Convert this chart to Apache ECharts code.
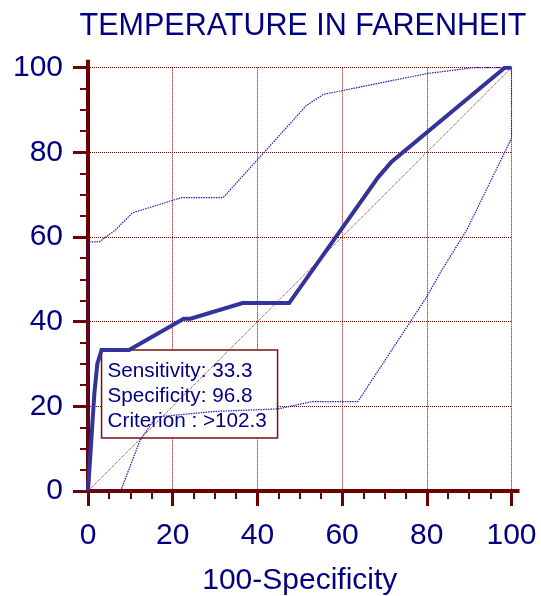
<!DOCTYPE html>
<html>
<head>
<meta charset="utf-8">
<script src="https://cdn.jsdelivr.net/npm/echarts@6/dist/echarts.min.js"></script>
<style>
  html, body { margin: 0; padding: 0; background: #ffffff; }
  #chart { width: 541px; height: 596px; }
</style>
</head>
<body>
<div id="chart"></div>
<script>
// ROC curve for temperature (°F) with 95% confidence bounds
const rocCurve = [
  [0, 0], [1.5, 23.0], [2.2, 30.0], [3.2, 33.3], [9.7, 33.3],
  [22.6, 40.7], [24.2, 40.7], [36.5, 44.4], [47.5, 44.4],
  [68.5, 74.1], [71.7, 77.8], [98.4, 100], [100, 100]
];
const upperBound = [
  [0, 0], [0, 58.8], [2.7, 58.9], [6.4, 61.6], [10.5, 65.7],
  [20.1, 68.7], [22.1, 69.3], [31.9, 69.3], [40.6, 78.9],
  [51.6, 91.1], [55.6, 93.7], [80.0, 98.6], [91.0, 100], [100, 100]
];
const lowerBound = [
  [0, 0], [7.7, 0], [12.3, 12.0], [16.1, 17.5], [30.0, 18.8],
  [44.9, 19.4], [52.8, 21.1], [63.7, 21.1], [80.0, 45.9],
  [83.5, 52.1], [89.4, 61.6], [100, 83.3], [100, 100]
];
const chanceLine = [[0, 0], [100, 100]];
const criterionPoint = [3.2, 33.3];
const criterionText = ['Sensitivity: 33.3', 'Specificity: 96.8', 'Criterion : >102.3'];
const axisMin = 0, axisMax = 100, axisStep = 20;

const FONT = "'Liberation Sans', Arial, sans-serif";
const NAVY = '#000080';
const AXIS_RED = '#6e0000';
const GRID_RED = '#800000';

function valueAxis(extra) {
  return Object.assign({
    type: 'value',
    min: axisMin,
    max: axisMax,
    interval: axisStep,
    axisLine: {
      show: true,
      symbol: ['none', 'rect'],
      symbolSize: [4, 16],
      lineStyle: { color: AXIS_RED, width: 4 }
    },
    axisTick: { show: true, length: 15, lineStyle: { color: AXIS_RED, width: 3 } },
    minorTick: { show: true, splitNumber: 4, length: 8, lineStyle: { color: AXIS_RED, width: 2 } },
    splitLine: { show: true, lineStyle: { color: GRID_RED, width: 1, type: [1, 1] } },
    axisLabel: { color: NAVY, fontFamily: FONT, fontSize: 30 }
  }, extra);
}

const chart = echarts.init(document.getElementById('chart'), null, { renderer: 'canvas' });

chart.setOption({
  animation: false,
  backgroundColor: '#ffffff',
  title: {
    text: 'TEMPERATURE IN FARENHEIT',
    left: 298,
    top: 6,
    textAlign: 'center',
    textStyle: { color: NAVY, fontFamily: FONT, fontSize: 30.5, fontWeight: 'normal' }
  },
  grid: {
    left: 88, right: 29.5, top: 67.7, bottom: 105,
    containLabel: false,
    outerBoundsMode: 'none'
  },
  xAxis: valueAxis({
    name: '100-Specificity',
    nameLocation: 'middle',
    nameGap: 75,
    nameTextStyle: { color: NAVY, fontFamily: FONT, fontSize: 30 },
    axisLabel: { color: NAVY, fontFamily: FONT, fontSize: 30, margin: 30 }
  }),
  yAxis: valueAxis({
    axisLabel: { color: NAVY, fontFamily: FONT, fontSize: 30, margin: 25 }
  }),
  series: [
    {
      type: 'line', data: chanceLine, showSymbol: false, silent: true, z: 2,
      lineStyle: { color: '#a82020', width: 1, type: [1, 1] }
    },
    {
      type: 'line', data: upperBound, showSymbol: false, silent: true, z: 3,
      lineStyle: { color: '#1c1cb0', width: 1.2, type: [1.5, 1] }
    },
    {
      type: 'line', data: lowerBound, showSymbol: false, silent: true, z: 3,
      lineStyle: { color: '#1c1cb0', width: 1.2, type: [1.5, 1] }
    },
    {
      type: 'line', data: rocCurve, showSymbol: false, silent: true, z: 4,
      lineStyle: { color: '#333399', width: 4, join: 'miter' }
    }
  ]
});

// Criterion annotation box, anchored at the chosen cut-off point on the curve
const anchor = chart.convertToPixel({ gridIndex: 0 }, criterionPoint);
chart.setOption({
  graphic: [{
    type: 'group',
    x: anchor[0],
    y: anchor[1],
    z: 100,
    children: [
      {
        type: 'rect',
        shape: { x: 0, y: 0, width: 176, height: 88 },
        style: { fill: '#ffffff', stroke: '#7a1010', lineWidth: 1.5 }
      },
      {
        type: 'text',
        x: 6,
        y: 9,
        style: {
          text: criterionText.join('\n'),
          fill: NAVY,
          font: '20.7px ' + FONT,
          lineHeight: 25,
          verticalAlign: 'top'
        }
      }
    ]
  }]
});
</script>
</body>
</html>
